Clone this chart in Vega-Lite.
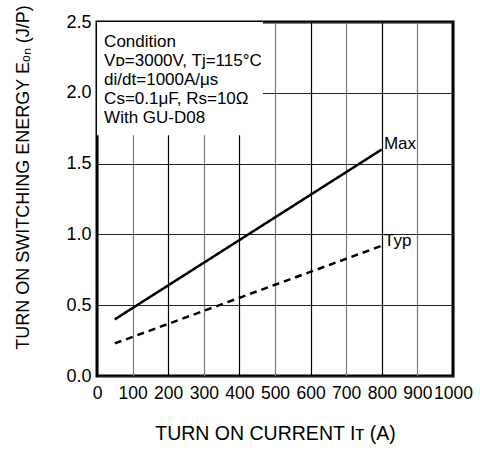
{
  "$schema": "https://vega.github.io/schema/vega-lite/v6.json",
  "autosize": "none",
  "width": 356,
  "height": 354,
  "padding": {"left": 97, "top": 22, "right": 27, "bottom": 77},
  "background": "white",
  "config": {
    "font": "Liberation Sans",
    "view": {"stroke": "black", "strokeWidth": 3},
    "axis": {"labelFont": "Liberation Sans", "titleFont": "Liberation Sans", "labelColor": "black", "titleColor": "black", "titleFontWeight": "normal", "domain": false, "ticks": false}
  },
  "resolve": {"axis": {"x": "independent", "y": "independent"}},
  "datasets": {
    "curves": [
      {"series": "Max", "current": 50, "energy": 0.4},
      {"series": "Max", "current": 800, "energy": 1.6},
      {"series": "Typ", "current": 50, "energy": 0.23},
      {"series": "Typ", "current": 800, "energy": 0.92}
    ],
    "labels": [
      {"text": "Max", "current": 806, "energy": 1.64},
      {"text": "Typ", "current": 806, "energy": 0.95}
    ],
    "box": [{"x0": 0, "x1": 466, "y0": 1.7, "y1": 2.5}],
    "cond": [
      {"line": "Condition", "current": 20, "energy": 2.323},
      {"line": "Vᴅ=3000V, Tj=115°C", "current": 20, "energy": 2.189},
      {"line": "di/dt=1000A/μs", "current": 20, "energy": 2.055},
      {"line": "Cs=0.1μF, Rs=10Ω", "current": 20, "energy": 1.921},
      {"line": "With GU-D08", "current": 20, "energy": 1.787}
    ]
  },
  "layer": [
    {
      "data": {"name": "curves"},
      "mark": {"type": "line", "color": "black", "strokeWidth": 2.5, "clip": true},
      "encoding": {
        "x": {
          "field": "current", "type": "quantitative",
          "scale": {"domain": [0, 1000], "nice": false},
          "axis": {
            "values": [0, 100, 200, 300, 400, 500, 600, 700, 800, 900, 1000],
            "tickCount": 40,
            "labelExpr": "format(datum.value, 'd')",
            "labelOverlap": false, "labelBound": false, "labelFlush": false,
            "labelFontSize": 17.5, "labelPadding": 8,
            "title": "TURN ON CURRENT Iᴛ (A)", "titleFontSize": 19.5,
            "titleY": 48, "titleBaseline": "top",
            "grid": false
          }
        },
        "y": {
          "field": "energy", "type": "quantitative",
          "scale": {"domain": [0, 2.5], "nice": false},
          "axis": {
            "values": [0, 0.5, 1, 1.5, 2, 2.5],
            "tickCount": 40,
            "format": ".1f",
            "labelOverlap": false,
            "labelFontSize": 18, "labelPadding": 6,
            "title": "TURN ON SWITCHING ENERGY Eₒₙ (J/P)", "titleFontSize": 18,
            "titleX": -74, "titleY": 155, "titleBaseline": "middle", "titleAlign": "center",
            "grid": true, "gridColor": "#222222", "gridWidth": 1.2
          }
        },
        "detail": {"field": "series", "type": "nominal"},
        "strokeDash": {
          "field": "series", "type": "nominal",
          "scale": {"domain": ["Max", "Typ"], "range": [[1, 0], [7, 5]]},
          "legend": null
        }
      }
    },
    {
      "data": {"name": "box"},
      "mark": {"type": "rect", "color": "white", "opacity": 1},
      "encoding": {
        "x": {"field": "x0", "type": "quantitative",
          "axis": {"orient": "top", "tickCount": 10, "labels": false, "title": null, "grid": true,
            "gridColor": {"condition": {"test": "datum.value % 200 == 0", "value": "#000000"}, "value": "#7a7a7a"},
            "gridWidth": 1.2}},
        "x2": {"field": "x1"},
        "y": {"field": "y0", "type": "quantitative", "axis": null},
        "y2": {"field": "y1"}
      }
    },
    {
      "data": {"name": "cond"},
      "mark": {"type": "text", "align": "left", "baseline": "alphabetic", "fontSize": 17, "color": "black", "font": "Liberation Sans"},
      "encoding": {
        "x": {"field": "current", "type": "quantitative", "axis": null},
        "y": {"field": "energy", "type": "quantitative", "axis": null},
        "text": {"field": "line"}
      }
    },
    {
      "data": {"name": "labels"},
      "mark": {"type": "text", "align": "left", "baseline": "middle", "fontSize": 17, "color": "black", "font": "Liberation Sans"},
      "encoding": {
        "x": {"field": "current", "type": "quantitative", "axis": null},
        "y": {"field": "energy", "type": "quantitative", "axis": null},
        "text": {"field": "text"}
      }
    }
  ]
}
